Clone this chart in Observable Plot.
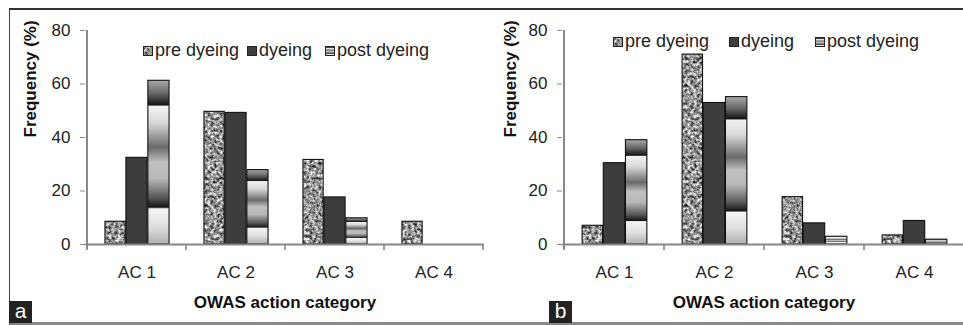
<!DOCTYPE html>
<html>
<head>
<meta charset="utf-8">
<script src="https://cdn.jsdelivr.net/npm/d3@7"></script>
<script src="https://cdn.jsdelivr.net/npm/@observablehq/plot@0.6"></script>
<style>
  html, body { margin: 0; padding: 0; background: #fff; }
  #wrap { position: relative; width: 963px; height: 325px; overflow: hidden; background: #fff;
          font-family: "Liberation Sans", Arial, sans-serif; }
  #frame { position: absolute; left: 9px; top: 8px; right: -5px; bottom: 0; border-top: 2px solid #333;
           border-left: 1.5px solid #444; border-bottom: 3px solid #888; box-sizing: border-box; }
  .panel { position: absolute; top: 0; }
  .legend { position: absolute; font-size: 18px; line-height: 18px; height: 18px; white-space: nowrap; color: #222; }
  .legend svg { vertical-align: baseline; margin-right: 2px; }
  .tag { position: absolute; top: 301px; width: 23px; height: 22px; background: #222; color: #fff;
         font-size: 21px; line-height: 20px; text-align: center; }
</style>
</head>
<body>
<svg width="0" height="0" style="position:absolute">
  <defs>
    <filter id="noiseF" x="0" y="0" width="100%" height="100%" color-interpolation-filters="sRGB">
      <feTurbulence type="fractalNoise" baseFrequency="0.33" numOctaves="3" seed="7"/>
      <feColorMatrix type="matrix" values="1.6 0 0 0 -0.22  1.6 0 0 0 -0.22  1.6 0 0 0 -0.22  0 0 0 0 1"/>
    </filter>
    <pattern id="granite" patternUnits="userSpaceOnUse" width="120" height="120">
      <rect width="120" height="120" fill="#999" filter="url(#noiseF)"/>
    </pattern>
    <linearGradient id="metal" x1="0" y1="0" x2="0" y2="1">
      <stop offset="0" stop-color="#a8a8a8"/>
      <stop offset="0.08" stop-color="#666"/>
      <stop offset="0.15" stop-color="#151515"/>
      <stop offset="0.16" stop-color="#f2f2f2"/>
      <stop offset="0.26" stop-color="#d8d8d8"/>
      <stop offset="0.41" stop-color="#6a6a6a"/>
      <stop offset="0.5" stop-color="#c0c0c0"/>
      <stop offset="0.6" stop-color="#b8b8b8"/>
      <stop offset="0.72" stop-color="#555"/>
      <stop offset="0.775" stop-color="#151515"/>
      <stop offset="0.785" stop-color="#f6f6f6"/>
      <stop offset="0.9" stop-color="#dcdcdc"/>
      <stop offset="1" stop-color="#b0b0b0"/>
    </linearGradient>
  </defs>
</svg>
<div id="wrap"><div id="frame"></div></div>
<script>
// ---- data ----
const categories = ["AC 1", "AC 2", "AC 3", "AC 4"];
const seriesNames = ["pre dyeing", "dyeing", "post dyeing"];
const yTicks = [0, 20, 40, 60, 80];
const panelLabels = ["a", "b"];
const xTitle = "OWAS action category";
const yTitle = "Frequency (%)";

// panel a
const aPre  = [8.5, 49.6, 31.6, 8.5];
const aDye  = [32.4, 49.2, 17.6, 0];
const aPost = [61.2, 27.8, 9.8, 0];
// panel b
const bPre  = [7.0, 71.0, 17.7, 3.4];
const bDye  = [30.4, 52.9, 7.9, 8.8];
const bPost = [39.0, 55.1, 2.9, 1.8];

// ---- styles ----
const fills = ["url(#granite)", "#3d3d3d", "url(#metal)"];
const slots = [[0.18, 0.39], [0.39, 0.61], [0.61, 0.83]];

// axis lines + band-edge ticks drawn from Plot's own scales
function axisFrame(index, scales) {
  const {x, y} = scales;
  const g = d3.create("svg:g").attr("stroke", "#888").attr("fill", "none");
  const y0 = y(0), yTop = y(yTicks[yTicks.length - 1]);
  const x0 = x(categories[0]);
  g.append("line").attr("x1", x0).attr("x2", x0).attr("y1", y0 + 5).attr("y2", yTop).attr("stroke-width", 2);
  const edges = categories.map(c => x(c)).concat([x(categories[categories.length - 1]) + x.bandwidth()]);
  edges.forEach(e => {
    g.append("line").attr("x1", e).attr("x2", e).attr("y1", y0).attr("y2", y0 + 6).attr("stroke-width", 1.6);
  });
  return g.node();
}

function makePanel(series, {width, marginLeft, marginRight}) {
  const bw = (width - marginLeft - marginRight) / categories.length;
  const marks = [];
  series.forEach((vals, s) => {
    const data = categories.map((c, i) => ({category: c, value: vals[i]})).filter(d => d.value > 0);
    marks.push(Plot.barY(data, {
      x: "category", y: "value", fill: fills[s], stroke: "#111", strokeWidth: 1.1,
      insetLeft: slots[s][0] * bw, insetRight: (1 - slots[s][1]) * bw
    }));
  });
  marks.push(Plot.ruleY([0], {stroke: "#888", strokeWidth: 2}));
  marks.push(axisFrame);
  marks.push(Plot.axisY({ticks: yTicks, tickSize: 5, tickPadding: 10, fontSize: 17, stroke: "#888", fill: "#222", label: null}));
  marks.push(Plot.axisX({tickSize: 0, tickPadding: 21, fontSize: 17, fill: "#222", label: null}));
  marks.push(Plot.text([xTitle], {text: d => d, frameAnchor: "bottom", dy: 63, fontSize: 17, fontWeight: "bold", fill: "#111"}));
  marks.push(Plot.text([yTitle], {text: d => d, frameAnchor: "left", dx: -marginLeft + 30, rotate: -90, fontSize: 17, fontWeight: "bold", fill: "#111"}));
  return Plot.plot({
    width, height: 325, marginLeft, marginRight, marginTop: 30, marginBottom: 81,
    x: {type: "band", domain: categories, padding: 0},
    y: {domain: [0, 80]},
    style: {background: "transparent", overflow: "visible", fontFamily: "'Liberation Sans', Arial, sans-serif"},
    marks
  });
}

const wrap = document.getElementById("wrap");
const panels = [
  {series: [aPre, aDye, aPost], left: 0, width: 490, marginLeft: 85, marginRight: 6,
   legendTop: 41, legendLefts: [143, 247, 325], tagLeft: 9},
  {series: [bPre, bDye, bPost], left: 480, width: 490, marginLeft: 82, marginRight: 5,
   legendTop: 31.5, legendLefts: [613, 729, 815], tagLeft: 549}
];
panels.forEach((p, k) => {
  const svg = makePanel(p.series, p);
  svg.classList.add("panel");
  svg.style.left = p.left + "px";
  svg.style.maxWidth = "none";
  wrap.appendChild(svg);
  seriesNames.forEach((name, s) => {
    const d = document.createElement("div");
    d.className = "legend";
    d.style.left = p.legendLefts[s] + "px";
    d.style.top = p.legendTop + "px";
    d.innerHTML = `<svg width="10" height="10"><rect x="0.5" y="0.5" width="9" height="9" fill="${fills[s]}" stroke="#222"/></svg>`;
    d.appendChild(document.createTextNode(name));
    wrap.appendChild(d);
  });
  const t = document.createElement("div");
  t.className = "tag";
  t.style.left = p.tagLeft + "px";
  t.textContent = panelLabels[k];
  wrap.appendChild(t);
});
</script>
</body>
</html>
